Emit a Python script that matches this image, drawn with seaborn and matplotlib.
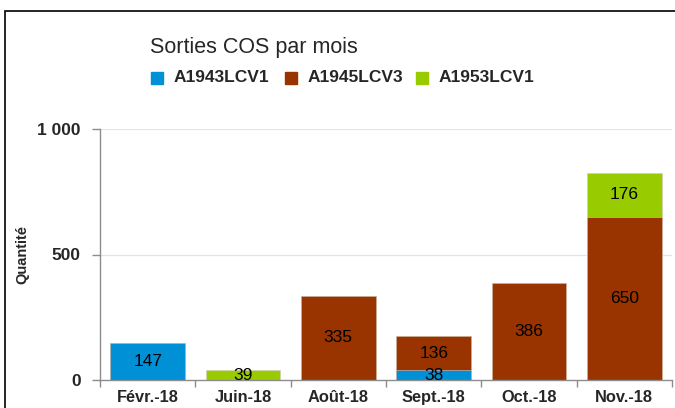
import matplotlib
matplotlib.use("Agg")
import matplotlib.pyplot as plt
from matplotlib.patches import Rectangle
import seaborn as sns
import numpy as np
import pandas as pd

# data
mois = ['Févr.-18', 'Juin-18', 'Août-18', 'Sept.-18', 'Oct.-18', 'Nov.-18']
a1943 = [147, 0, 0, 38, 0, 0]
a1945 = [0, 0, 335, 136, 386, 650]
a1953 = [0, 39, 0, 0, 0, 176]
series = ['A1943LCV1', 'A1945LCV3', 'A1953LCV1']
colors = ['#0090D6', '#993300', '#99CC00']

sns.set_style('white')
plt.rcParams['font.family'] = ['Liberation Sans', 'DejaVu Sans']

W, H = 675, 408
fig = plt.figure(figsize=(W / 100, H / 100), dpi=100)


def fx(px):
    return px / W


def fy(py):
    return 1 - py / H


ax = fig.add_axes([fx(100), fy(380), fx(672) - fx(100), fy(129) - fy(380)])

vals = [a1943, a1945, a1953]
df = pd.DataFrame({'mois': mois, 'A1943LCV1': a1943, 'A1945LCV3': a1945, 'A1953LCV1': a1953})
cum = np.cumsum(np.array(vals), axis=0)

# stacked bars: draw tallest cumulative first
for i in range(2, -1, -1):
    df['cum'] = cum[i]
    sns.barplot(data=df, x='mois', y='cum', color=colors[i], width=0.785,
                saturation=1, edgecolor='#d9c9c0', linewidth=0.4, ax=ax)

for i in range(3):
    bottoms = cum[i] - np.array(vals[i])
    for j, v in enumerate(vals[i]):
        if v > 0:
            ax.text(j, bottoms[j] + v / 2, str(v), ha='center', va='center',
                    fontsize=12.5, color='black')

ax.set_ylim(0, 1000)
ax.set_xlim(-0.5, 5.5)
ax.set_yticks([0, 500, 1000])
ax.set_yticklabels(['0', '500', '1 000'])
ax.set_xlabel('')
ax.set_ylabel('')
ax.grid(False)
for y in [500, 1000]:
    ax.axhline(y, color='#e3e3e3', lw=0.9, zorder=0)

for s in ['top', 'right']:
    ax.spines[s].set_visible(False)
for s in ['left', 'bottom']:
    ax.spines[s].set_color('#8c8c8c')
    ax.spines[s].set_linewidth(1.0)

ax.set_xticks(np.arange(-0.5, 6, 1), minor=True)
ax.tick_params(axis='x', which='major', length=0, pad=7, labelsize=11.8)
ax.tick_params(axis='x', which='minor', length=5, color='#8c8c8c', width=1, direction='out')
ax.tick_params(axis='y', length=6, color='#8c8c8c', width=1, pad=8, labelsize=12.5, direction='out')
ax.tick_params(left=True, bottom=True, which='both')
ax.tick_params(axis='x', which='major', bottom=False)
for lab in ax.get_xticklabels() + ax.get_yticklabels():
    lab.set_fontweight('bold')

fig.text(fx(22), fy(254), 'Quantité', rotation=90, ha='center', va='center',
         fontsize=10.5, fontweight='bold')

fig.text(fx(150), fy(47), 'Sorties COS par mois', ha='left', va='center', fontsize=15.5)

leg_x = [151, 285, 416]
for k, name in enumerate(series):
    fig.patches.append(Rectangle((fx(leg_x[k]), fy(84)), fx(12), fy(72) - fy(84),
                                 transform=fig.transFigure, color=colors[k]))
    fig.text(fx(leg_x[k] + 23), fy(78), name, ha='left', va='center',
             fontsize=12.5, fontweight='bold')

# outer frame of the original chart
fig.patches.append(Rectangle((fx(5), fy(440)), fx(720), fy(11) - fy(440),
                             transform=fig.transFigure, fill=False,
                             edgecolor='black', linewidth=1.2, clip_on=False))

fig.savefig('out.png', dpi=100)
